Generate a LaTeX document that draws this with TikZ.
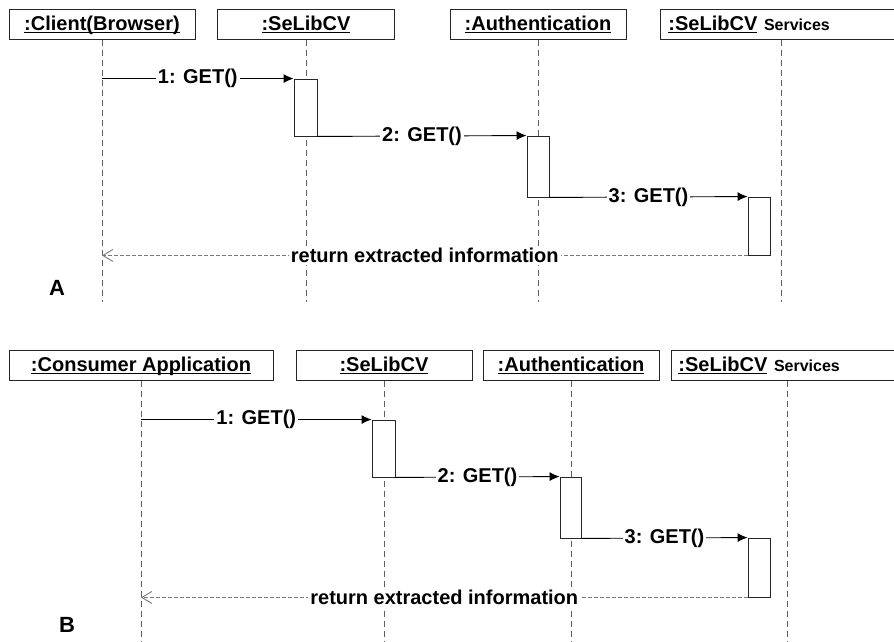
\documentclass[tikz,border=0pt]{standalone}
\usepackage{fontspec}
\setmainfont{Liberation Sans}
\usetikzlibrary{arrows.meta}
\definecolor{life}{RGB}{95, 95, 95}
\definecolor{ret}{RGB}{120, 120, 120}
\newcommand{\uname}[1]{\underline{\smash{#1}\rule[-0.5pt]{0pt}{15pt}}}
\tikzset{
  obj/.style={draw=black!85, line width=0.9pt, inner sep=0pt, minimum height=30pt,
    font=\fontsize{20}{22}\selectfont\bfseries},
  act/.style={draw=black!85, fill=white, line width=0.9pt, inner sep=0pt,
    minimum width=22pt, minimum height=58pt},
  lifeline/.style={color=life, line width=0.8pt, dash pattern=on 6pt off 4pt},
  msg/.style={line width=0.9pt, -{Latex[length=10pt,width=9pt]}},
  reply/.style={color=ret, line width=0.9pt, dash pattern=on 4pt off 2pt,
    -{Straight Barb[length=10pt,width=12pt]}},
  lbl/.style={fill=white, text=black, inner sep=2pt, font=\fontsize{20}{22}\selectfont\bfseries},
  tag/.style={font=\fontsize{22}{24}\selectfont\bfseries}
}

\begin{document}
\begin{tikzpicture}[x=1pt, y=-1pt]
  \useasboundingbox (0, 0) rectangle (894, 642);
  \clip (0, 0) rectangle (894, 642);

  \node[obj, minimum width=186pt] (a1) at (102, 24.5) {\uname{:Client(Browser)}};
  \node[obj, minimum width=177pt] (a2) at (306, 24.5) {\uname{:SeLibCV}};
  \node[obj, minimum width=176pt] (a3) at (538, 24.5) {\uname{:Authentication}};
  \node[obj, anchor=west, minimum width=250pt, inner xsep=8pt, text width=234pt, align=left]
    (a4) at (660, 24.5) {\uname{:SeLibCV} {\fontsize{16}{18}\selectfont Services}};
  \coordinate (ea1) at (102, 302);
  \coordinate (ea2) at (306, 302);
  \coordinate (ea3) at (538, 302);
  \coordinate (ea4) at (781, 302);
  \draw[lifeline] (a1) -- (ea1);
  \draw[lifeline] (a2) -- (ea2);
  \draw[lifeline] (a3) -- (ea3);
  \draw[lifeline] (a4.south -| ea4) -- (ea4);
  \node[act, minimum width=23pt, minimum height=57pt] (pa1) at (305.5, 107.5) {};
  \node[act, minimum height=61pt] (pa2) at (538, 166.5) {};
  \node[act] (pa3) at (759, 226) {};
  \draw[msg] (ea1 |- pa1.north west) -- node[lbl] {1: GET()} (pa1.north west);
  \draw[msg] (pa1.south east) -- node[lbl] {2: GET()} (pa2.north west);
  \draw[msg] (pa2.south east) -- node[lbl] {3: GET()} (pa3.north west);
  \draw[reply] (pa3.south west) -- node[lbl] {return extracted information} (ea1 |- pa3.south west);
  \node[tag] (ta) at (57, 288) {A};

  \node[obj, minimum width=264pt] (b1) at (141, 365.5) {\uname{:Consumer Application}};
  \node[obj, minimum width=176pt] (b2) at (384, 365.5) {\uname{:SeLibCV}};
  \node[obj, minimum width=176pt] (b3) at (571, 365.5) {\uname{:Authentication}};
  \node[obj, anchor=west, minimum width=240pt, inner xsep=7pt, text width=226pt, align=left]
    (b4) at (671, 365.5) {\uname{:SeLibCV} {\fontsize{16}{18}\selectfont Services}};
  \coordinate (eb1) at (141, 642);
  \coordinate (eb2) at (384, 642);
  \coordinate (eb3) at (571, 642);
  \coordinate (eb4) at (787, 642);
  \draw[lifeline] (b1) -- (eb1);
  \draw[lifeline] (b2) -- (eb2);
  \draw[lifeline] (b3) -- (eb3);
  \draw[lifeline] (b4.south -| eb4) -- (eb4);
  \node[act, minimum width=23pt, minimum height=57pt] (pb1) at (383.5, 448.5) {};
  \node[act, minimum width=21pt, minimum height=61pt] (pb2) at (570.5, 507.5) {};
  \node[act, minimum height=59pt] (pb3) at (759, 567.5) {};
  \draw[msg] (eb1 |- pb1.north west) -- node[lbl] {1: GET()} (pb1.north west);
  \draw[msg] (pb1.south east) -- node[lbl] {2: GET()} (pb2.north west);
  \draw[msg] (pb2.south east) -- node[lbl] {3: GET()} (pb3.north west);
  \draw[reply] (pb3.south west) -- node[lbl] {return extracted information} (eb1 |- pb3.south west);
  \node[tag] (tb) at (67, 625) {B};
\end{tikzpicture}
\end{document}
